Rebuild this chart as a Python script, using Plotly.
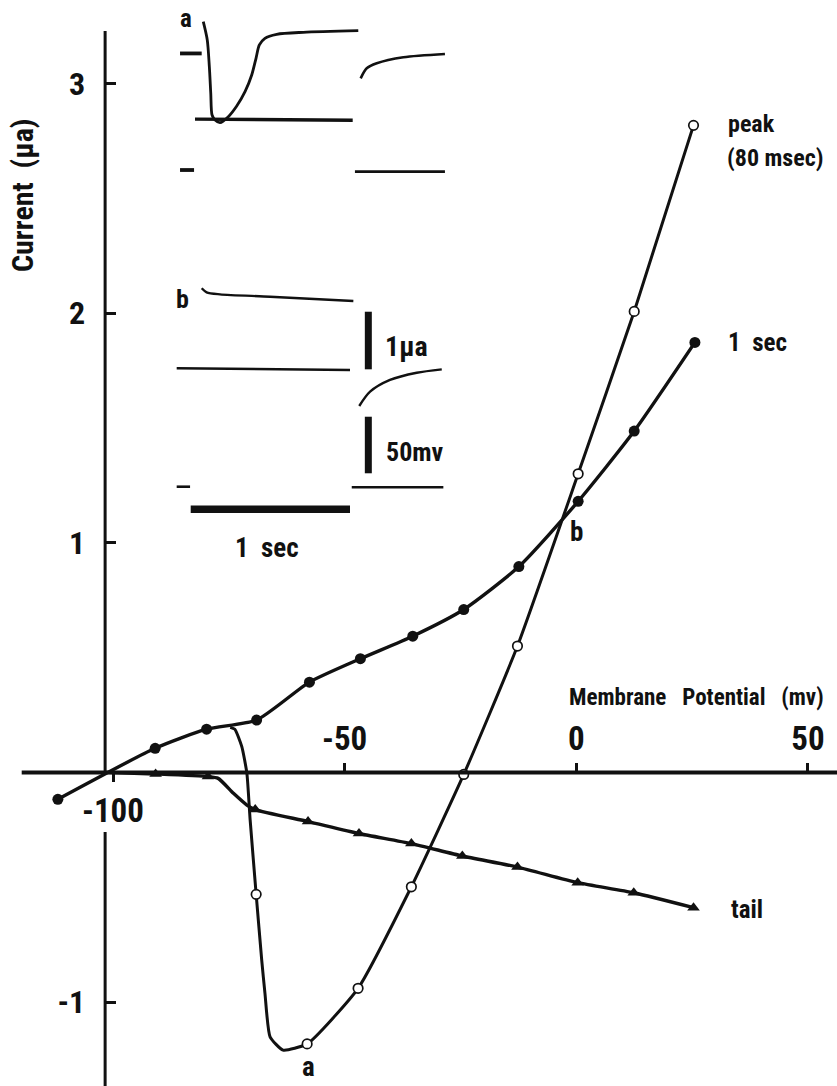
import plotly.graph_objects as go

# ---------------- main I-V relation (membrane potential mV, current µA) ----------------
V_1SEC = [-111.9, -90.9, -79.8, -69.0, -57.6, -46.6, -35.3, -24.3, -12.4, 0.4, 12.5, 25.6]
I_1SEC = [-0.117, 0.105, 0.188, 0.228, 0.393, 0.495, 0.593, 0.709, 0.896, 1.180, 1.486, 1.872]

V_PEAK = [-69.1, -58.1, -47.1, -35.6, -24.3, -12.7, 0.4, 12.5, 25.3]
I_PEAK = [-0.531, -1.182, -0.940, -0.498, -0.009, 0.550, 1.300, 2.007, 2.817]
# hand-drawn curve (passes through the peak points)
V_PEAK_CURVE = [-74.7, -73.7, -72.2, -71.1, -70.4, -69.1, -67.9, -67.2, -66.1, -63.3, -58.1,
                -47.1, -35.6, -24.3, -12.7, 0.4, 12.5, 25.3]
I_PEAK_CURVE = [0.196, 0.188, 0.112, -0.004, -0.207, -0.531, -0.817, -0.962, -1.151, -1.209, -1.182,
                -0.940, -0.498, -0.009, 0.550, 1.300, 2.007, 2.817]

V_TAIL = [-90.8, -79.5, -69.3, -57.9, -46.9, -35.6, -24.6, -12.7, 0.3, 12.4, 25.3]
I_TAIL = [-0.007, -0.018, -0.162, -0.214, -0.266, -0.310, -0.364, -0.412, -0.480, -0.524, -0.589]
V_TAIL_CURVE = [-101.7, -90.8, -79.5, -77.3, -74.0, -71.1, -69.3, -57.9, -46.9, -35.6, -24.6,
                -12.7, 0.3, 12.4, 25.3]
I_TAIL_CURVE = [0.0, -0.007, -0.018, -0.026, -0.091, -0.142, -0.162, -0.214, -0.266, -0.310,
                -0.364, -0.412, -0.480, -0.524, -0.589]

X_TICKS_TOP = [-50, 0, 50]
X_TICKTEXT_TOP = ["-50", "0", "50"]
X_TICKS_BOTTOM = [-100]
X_TICKTEXT_BOTTOM = ["-100"]
Y_TICKS = [3, 2, 1, -1]
Y_TICKTEXT = ["3", "2", "1", "-1"]
Y_AXIS_AT = -101.7          # membrane potential where the current axis is drawn

# ---------------- inset records (time s ; 1 unit = 1 µA = 50 mV) ----------------
A_I_T = [0.079, 0.104, 0.117, 0.126, 0.134, 0.153, 0.184, 0.236, 0.289, 0.341, 0.383, 0.410,
         0.431, 0.466, 0.540, 0.707, 1.052]
A_I_Y = [8.651, 8.333, 7.870, 7.408, 7.031, 6.944, 6.898, 7.002, 7.188, 7.436, 7.726, 8.016,
         8.247, 8.363, 8.432, 8.467, 8.495]
A_V_T = [0.027, 1.017]
A_V_Y = [6.96, 6.94]
A_TAIL_T = [1.067, 1.105, 1.168, 1.335, 1.596]
A_TAIL_Y = [7.668, 7.842, 7.929, 8.033, 8.090]
A_VAFTER_T = [1.031, 1.596]
A_VAFTER_Y = [6.047, 6.047]
A_ZERO_T = [-0.067, 0.069]
A_ZERO_Y = [8.10, 8.10]
A_HOLD_T = [-0.067, 0.021]
A_HOLD_Y = [6.076, 6.076]

B_I_T = [0.069, 0.100, 0.184, 0.498, 1.021]
B_I_Y = [4.023, 3.953, 3.918, 3.877, 3.802]
B_V_T = [-0.088, 1.0]
B_V_Y = [2.634, 2.604]
B_TAIL_T = [1.058, 1.126, 1.251, 1.419, 1.576]
B_TAIL_Y = [1.979, 2.227, 2.431, 2.557, 2.616]
B_HOLD_T = [-0.088, -0.004]
B_HOLD_Y = [0.578, 0.578]
B_VAFTER_T = [1.011, 1.586]
B_VAFTER_Y = [0.568, 0.568]

BAR_UA_T = [1.115, 1.115]
BAR_UA_Y = [2.616, 3.616]
BAR_MV_T = [1.115, 1.115]
BAR_MV_Y = [0.811, 1.793]
BAR_SEC_T = [0.0, 1.0]
BAR_SEC_Y = [0.186, 0.186]

# ---------------- layout calibration ----------------
W, H = 837, 1086
PX_X0, PX_PER_MV = 576.3, 4.633
PX_Y0, PX_PER_UA = 772.4, 229.7
X_RANGE = [(0 - PX_X0) / PX_PER_MV, (W - PX_X0) / PX_PER_MV]
Y_RANGE = [(PX_Y0 - H) / PX_PER_UA, PX_Y0 / PX_PER_UA]
X_AXIS_START = (21.7 - PX_X0) / PX_PER_MV
Y_AXIS_TOP = (PX_Y0 - 31) / PX_PER_UA
Y_GAP_BOTTOM = (PX_Y0 - 832) / PX_PER_UA

INSET_PX = dict(left=170, right=450, top=10, bottom=560)
INSET_T_RANGE = [(170 - 190.7) / 159.3, (450 - 190.7) / 159.3]
INSET_Y_RANGE = [-(560 - 520) / 57.6, (520 - 10) / 57.6]

FONT = "Roboto Condensed, DejaVu Sans Condensed, sans-serif"
BLACK = "#111111"
NB = "\u00a0"

fig = go.Figure()

# invisible trace so that the lower (-100) tick axis is rendered
fig.add_trace(go.Scatter(x=X_TICKS_BOTTOM, y=[0], xaxis="x3", yaxis="y", mode="markers",
                         marker=dict(opacity=0), hoverinfo="skip", showlegend=False))

line_style = dict(color=BLACK, width=3.4, shape="spline", smoothing=0.6)
fig.add_trace(go.Scatter(x=V_TAIL_CURVE, y=I_TAIL_CURVE, mode="lines", line=line_style,
                         hoverinfo="skip", showlegend=False))
fig.add_trace(go.Scatter(x=V_1SEC, y=I_1SEC, mode="lines", line=line_style,
                         hoverinfo="skip", showlegend=False))
fig.add_trace(go.Scatter(x=V_PEAK_CURVE, y=I_PEAK_CURVE, mode="lines",
                         line=dict(color=BLACK, width=3, shape="spline", smoothing=0.5),
                         hoverinfo="skip", showlegend=False))
fig.add_trace(go.Scatter(x=V_TAIL, y=I_TAIL, mode="markers", name="tail",
                         marker=dict(symbol="triangle-up", size=11, color=BLACK), showlegend=False))
fig.add_trace(go.Scatter(x=V_1SEC, y=I_1SEC, mode="markers", name="1 sec",
                         marker=dict(symbol="circle", size=11, color=BLACK), showlegend=False))
fig.add_trace(go.Scatter(x=V_PEAK, y=I_PEAK, mode="markers", name="peak (80 msec)",
                         marker=dict(symbol="circle", size=9.5, color="white",
                                     line=dict(color=BLACK, width=1.7)), showlegend=False))

# inset traces
def inset(t, y, width, shape="linear"):
    fig.add_trace(go.Scatter(x=t, y=y, xaxis="x2", yaxis="y2", mode="lines",
                             line=dict(color=BLACK, width=width, shape=shape, smoothing=0.8),
                             hoverinfo="skip", showlegend=False))

inset(A_I_T, A_I_Y, 2.8, "spline")
inset(A_V_T, A_V_Y, 3.4)
inset(A_TAIL_T, A_TAIL_Y, 2.6, "spline")
inset(A_VAFTER_T, A_VAFTER_Y, 2.8)
inset(A_ZERO_T, A_ZERO_Y, 3.8)
inset(A_HOLD_T, A_HOLD_Y, 3.8)
inset(B_I_T, B_I_Y, 2.4, "spline")
inset(B_V_T, B_V_Y, 2.6)
inset(B_TAIL_T, B_TAIL_Y, 2.4, "spline")
inset(B_HOLD_T, B_HOLD_Y, 2.6)
inset(B_VAFTER_T, B_VAFTER_Y, 2.6)
inset(BAR_UA_T, BAR_UA_Y, 7)
inset(BAR_MV_T, BAR_MV_Y, 7)
inset(BAR_SEC_T, BAR_SEC_Y, 7.5)

# axis lines (the current axis is interrupted under the "-100" label)
shapes = [
    dict(type="line", xref="x", yref="y", x0=X_AXIS_START, x1=X_RANGE[1], y0=0, y1=0,
         line=dict(color=BLACK, width=4)),
    dict(type="line", xref="x", yref="y", x0=Y_AXIS_AT, x1=Y_AXIS_AT, y0=0, y1=Y_AXIS_TOP,
         line=dict(color=BLACK, width=3)),
    dict(type="line", xref="x", yref="y", x0=Y_AXIS_AT, x1=Y_AXIS_AT, y0=Y_GAP_BOTTOM, y1=Y_RANGE[0],
         line=dict(color=BLACK, width=3)),
]

def txt(x, y, s, size, xref="x", yref="y", xanchor="left", yanchor="middle", angle=0):
    return dict(x=x, y=y, text=s, xref=xref, yref=yref, xanchor=xanchor, yanchor=yanchor,
                showarrow=False, textangle=angle,
                font=dict(family=FONT, size=size, color=BLACK, weight="bold"))

annotations = [
    txt(32.4, 2.825, "peak", 24),
    txt(32.1, 2.675, "(80" + NB + "msec)", 24),
    txt(32.4, 1.872, "1" + NB * 2 + "sec", 25),
    txt(33.0, -0.595, "tail", 25),
    txt(0.09, 1.047, "b", 27, xanchor="center"),
    txt(-57.9, (PX_Y0 - 1085) / PX_PER_UA, "a", 27, xanchor="center", yanchor="bottom"),
    txt(-2.1, 0.328, "Membrane" + NB * 3 + "Potential" + NB * 3 + "(mv)", 23),
    txt(22 / W, 1 - 195 / H, "Current" + NB * 2 + "(\u00b5a)", 30, xref="paper", yref="paper",
        xanchor="center", angle=-90),
    # inset labels
    txt(-0.031, 8.71, "a", 25, xref="x2", yref="y2", xanchor="center"),
    txt(-0.051, 3.837, "b", 26, xref="x2", yref="y2", xanchor="center"),
    txt(1.205, 3.009, "1\u00b5a", 28, xref="x2", yref="y2"),
    txt(1.215, 1.186, "50mv", 26, xref="x2", yref="y2"),
    txt(0.477, -0.486, "1" + NB * 2 + "sec", 27, xref="x2", yref="y2", xanchor="center"),
]

xtickfont = dict(family=FONT, size=33, color=BLACK, weight="bold")
ytickfont = dict(family=FONT, size=32, color=BLACK, weight="bold")
fig.update_layout(
    width=W, height=H, autosize=False,
    margin=dict(l=0, r=0, t=0, b=0, pad=0),
    paper_bgcolor="white", plot_bgcolor="white",
    showlegend=False,
    xaxis=dict(domain=[0, 1], range=X_RANGE, anchor="free",
               position=1 - PX_Y0 / H, side="top",
               tickvals=X_TICKS_TOP, ticktext=X_TICKTEXT_TOP, ticks="outside", ticklen=9,
               tickwidth=3, tickcolor=BLACK, tickfont=xtickfont, ticklabelstandoff=0,
               showline=False, showgrid=False, zeroline=False, fixedrange=True),
    xaxis3=dict(overlaying="x", matches="x", range=X_RANGE, anchor="free",
                position=1 - PX_Y0 / H, side="bottom",
                tickvals=X_TICKS_BOTTOM, ticktext=X_TICKTEXT_BOTTOM, ticks="outside", ticklen=9,
                tickwidth=3, tickcolor=BLACK, tickfont=xtickfont, ticklabelstandoff=0,
                showline=False, showgrid=False, zeroline=False),
    yaxis=dict(domain=[0, 1], range=Y_RANGE, anchor="free",
               position=(PX_X0 + PX_PER_MV * Y_AXIS_AT) / W,
               tickvals=Y_TICKS, ticktext=Y_TICKTEXT, ticks="inside", ticklen=10, tickwidth=3,
               tickcolor=BLACK, tickfont=ytickfont, ticklabelstandoff=20,
               showline=False, showgrid=False, zeroline=False, fixedrange=True),
    xaxis2=dict(domain=[INSET_PX["left"] / W, INSET_PX["right"] / W], range=INSET_T_RANGE,
                anchor="y2", visible=False),
    yaxis2=dict(domain=[1 - INSET_PX["bottom"] / H, 1 - INSET_PX["top"] / H], range=INSET_Y_RANGE,
                anchor="x2", visible=False),
    shapes=shapes,
    annotations=annotations,
)

fig.write_html("out.html", config={"displayModeBar": False},
               post_script="document.body.style.margin='0';")
